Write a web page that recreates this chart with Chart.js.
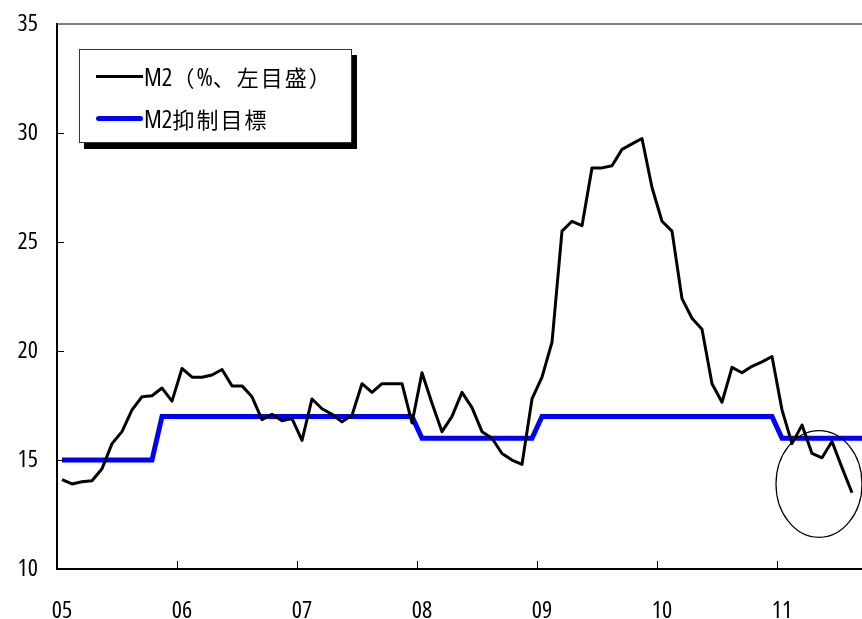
<!DOCTYPE html>
<html lang="ja">
<head>
<meta charset="utf-8">
<title>M2</title>
<script src="https://cdn.jsdelivr.net/npm/chart.js@4.4.1/dist/chart.umd.min.js"></script>
<style>
  html, body { margin: 0; padding: 0; background: #fff; overflow: hidden; }
  #wrap { position: relative; width: 870px; height: 619px; }
  #legend {
    position: absolute; left: 79px; top: 49px; width: 271px; height: 92px;
    background: #fff; border: 1px solid #333; box-shadow: 5px 6px 0 #000;
    font-family: "Open Sans", "Noto Sans CJK JP", sans-serif;
    font-stretch: condensed; font-size: 22px; color: #000;
  }
  .row { position: absolute; left: 16px; height: 28px; display: flex; align-items: center; white-space: nowrap; }
  .txt { letter-spacing: 2px; }
  .lat { font-size: 25px; letter-spacing: 0; }
  .swatch { width: 47px; margin-right: 1px; }
  .sw-m2 { height: 3px; background: #000; }
  .sw-target { height: 5px; background: #0000ff; border-radius: 3px; }
</style>
</head>
<body>
<div id="wrap">
  <canvas id="chart"></canvas>
  <div id="legend">
    <div class="row" style="top:12px"><span class="swatch sw-m2"></span><span class="txt"><span class="lat">M2</span>（<span class="lat">%</span>、左目盛）</span></div>
    <div class="row" style="top:54px"><span class="swatch sw-target"></span><span class="txt"><span class="lat">M2</span>抑制目標</span></div>
  </div>
</div>
<script>
// ── data ─────────────────────────────────────────────
const years = ["05", "06", "07", "08", "09", "10", "11"];
const yTicks = [10, 15, 20, 25, 30, 35];

// month categories Jan 2005 .. Sep 2011
const months = [];
years.forEach((y) => { for (let m = 1; m <= 12; m++) months.push(y + "-" + String(m).padStart(2, "0")); });
months.length = 81;

// M2 growth (%), Jan 2005 .. Aug 2011
const m2 = [
  14.1, 13.9, 14.0, 14.05, 14.6, 15.75, 16.3, 17.3, 17.9, 17.95, 18.3, 17.7,
  19.2, 18.8, 18.8, 18.9, 19.15, 18.4, 18.4, 17.9, 16.85, 17.1, 16.8, 16.9,
  15.9, 17.8, 17.35, 17.1, 16.75, 17.05, 18.5, 18.1, 18.5, 18.5, 18.5, 16.7,
  19.0, 17.6, 16.3, 17.0, 18.1, 17.4, 16.3, 16.0, 15.3, 15.0, 14.8, 17.8,
  18.8, 20.4, 25.5, 25.95, 25.75, 28.4, 28.4, 28.5, 29.25, 29.5, 29.75, 27.5,
  25.95, 25.5, 22.4, 21.5, 21.0, 18.5, 17.65, 19.25, 19.0, 19.3, 19.5, 19.75,
  17.3, 15.75, 16.6, 15.3, 15.1, 15.85, 14.65, 13.5
];

// M2 target (%), Jan 2005 .. Sep 2011
const target = [
  15, 15, 15, 15, 15, 15, 15, 15, 15, 15, 17, 17,
  17, 17, 17, 17, 17, 17, 17, 17, 17, 17, 17, 17,
  17, 17, 17, 17, 17, 17, 17, 17, 17, 17, 17, 17,
  16, 16, 16, 16, 16, 16, 16, 16, 16, 16, 16, 16,
  17, 17, 17, 17, 17, 17, 17, 17, 17, 17, 17, 17,
  17, 17, 17, 17, 17, 17, 17, 17, 17, 17, 17, 17,
  16, 16, 16, 16, 16, 16, 16, 16, 16
];

// circled area: centre (month index, %) and radii (months, %)
const circle = { x: 75.7, y: 13.9, rx: 4.3, ry: 2.45 };

// ── chart ────────────────────────────────────────────
// weight slot carries the font-stretch keyword so the canvas gets condensed digits
const tickFont = { family: "'Open Sans', sans-serif", size: 24, weight: "condensed" };

const frame = {
  id: "frame",
  afterDatasetsDraw(chart) {
    const { ctx, chartArea: a, scales: { x, y } } = chart;
    ctx.save();
    // top line
    ctx.strokeStyle = "#555";
    ctx.lineWidth = 1.5;
    ctx.beginPath();
    ctx.moveTo(a.left, a.top);
    ctx.lineTo(a.right + 10, a.top);
    ctx.stroke();
    // inward ticks
    ctx.strokeStyle = "#000";
    ctx.lineWidth = 1;
    ctx.beginPath();
    yTicks.slice(1, -1).forEach((v) => {
      const py = Math.round(y.getPixelForValue(v)) + 0.5;
      ctx.moveTo(a.left, py);
      ctx.lineTo(a.left + 7, py);
    });
    for (let i = 12; i < months.length; i += 12) {
      const px = Math.round(x.getPixelForValue(i - 0.5)) + 0.5;
      ctx.moveTo(px, a.bottom);
      ctx.lineTo(px, a.bottom - 8);
    }
    ctx.stroke();
    // ellipse
    const cx = x.getPixelForValue(circle.x);
    const cy = y.getPixelForValue(circle.y);
    const rx = Math.abs(x.getPixelForValue(circle.x + circle.rx) - cx);
    const ry = Math.abs(y.getPixelForValue(circle.y + circle.ry) - cy);
    ctx.lineWidth = 1.2;
    ctx.beginPath();
    ctx.ellipse(cx, cy, rx, ry, 0, 0, Math.PI * 2);
    ctx.stroke();
    ctx.restore();
  },
};

const noPad = (s) => { s.paddingLeft = 0; s.paddingRight = 0; s.paddingTop = 0; s.paddingBottom = 0; };

new Chart(document.getElementById("chart"), {
  type: "line",
  data: {
    labels: months,
    datasets: [
      { label: "M2（%、左目盛）", data: m2, borderColor: "#000", borderWidth: 3, pointRadius: 0, tension: 0, borderJoinStyle: "round" },
      { label: "M2抑制目標", data: target, borderColor: "#0000ff", borderWidth: 5, pointRadius: 0, tension: 0 },
    ],
  },
  options: {
    responsive: true,
    maintainAspectRatio: false,
    animation: false,
    layout: { padding: { top: 24, right: 3, left: 0, bottom: 0 } },
    plugins: { legend: { display: false }, tooltip: { enabled: false } },
    scales: {
      x: {
        offset: true,
        grid: { display: false },
        border: { display: true, color: "#000", width: 2 },
        ticks: {
          autoSkip: false, maxRotation: 0, color: "#000", font: tickFont, padding: 20,
          callback: (v, i) => (i % 12 === 0 ? years[i / 12] : ""),
        },
        afterFit: (s) => { s.height = 50; noPad(s); },
      },
      y: {
        min: 10, max: 35,
        grid: { display: false },
        border: { display: true, color: "#000", width: 2 },
        ticks: { stepSize: 5, color: "#000", font: tickFont, padding: 11 },
        afterFit: (s) => { s.width = 57; noPad(s); },
      },
    },
  },
  plugins: [frame],
});
</script>
</body>
</html>
